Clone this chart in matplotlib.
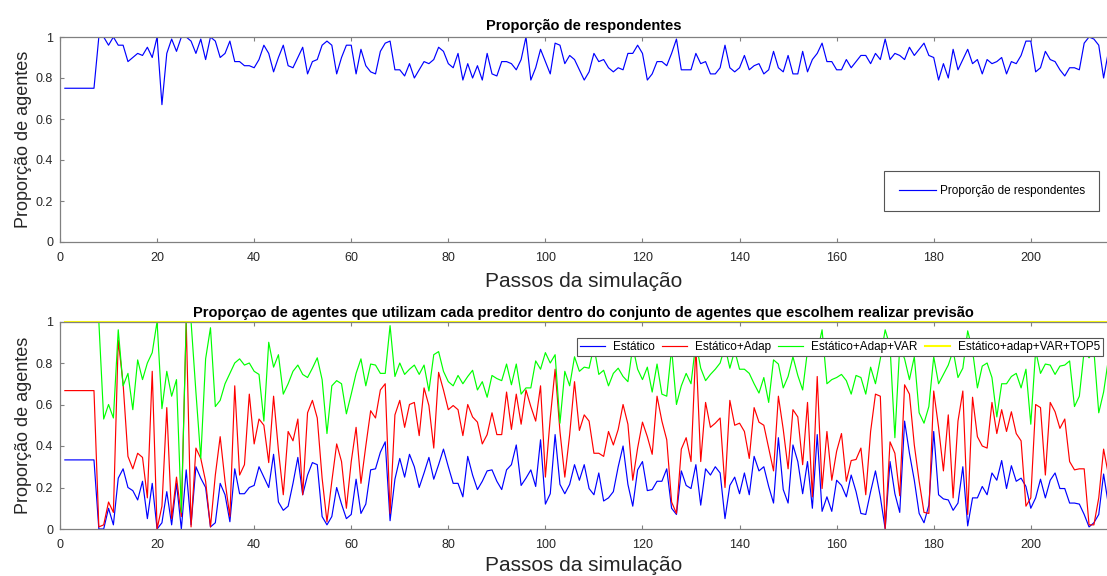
import numpy as np
import matplotlib
matplotlib.use('Agg')
import matplotlib.pyplot as plt

plt.rcParams['font.family'] = ['Liberation Sans', 'DejaVu Sans']

# proporção de respondentes, passo 1..216
respondentes = [0.75] * 7 + [
    1.0, 1.0, 0.96, 1.0, 0.96, 0.96, 0.88, 0.90, 0.92, 0.91, 0.95, 0.90, 1.0, 0.67, 0.92, 0.99, 0.93,
    1.0, 1.0, 0.98, 0.92, 0.99, 0.89, 1.0, 0.98, 0.90, 0.92, 0.98, 0.88, 0.88, 0.86, 0.86, 0.85, 0.89,
    0.96, 0.92, 0.83, 0.90, 0.96, 0.86, 0.85, 0.90, 0.95, 0.82, 0.88, 0.89, 0.96,
    0.98, 0.96, 0.82, 0.90, 0.96, 0.96, 0.82, 0.94, 0.86, 0.83, 0.82, 0.93, 0.97, 0.98, 0.84, 0.84,
    0.81, 0.87, 0.80, 0.84, 0.88, 0.87, 0.89, 0.95, 0.93, 0.87, 0.85, 0.92, 0.79, 0.87, 0.80, 0.86,
    0.79, 0.92, 0.82, 0.81, 0.88, 0.88, 0.87, 0.84, 0.89, 1.0, 0.79, 0.85, 0.94, 0.88, 0.82, 0.97,
    0.96, 0.87, 0.91, 0.89, 0.84, 0.79,
    0.83, 0.92, 0.88, 0.89, 0.85, 0.83, 0.85, 0.84, 0.92, 0.92, 0.96, 0.92, 0.79, 0.82, 0.88, 0.88,
    0.86, 0.92, 0.99, 0.84, 0.84, 0.84, 0.92, 0.87, 0.88, 0.82, 0.82, 0.85, 0.96, 0.85, 0.83, 0.85,
    0.91, 0.84, 0.86, 0.87, 0.82, 0.84, 0.93, 0.85, 0.83, 0.91, 0.82, 0.82, 0.93, 0.83, 0.89, 0.92,
    0.97, 0.88, 0.88, 0.84, 0.84,
    0.89, 0.85, 0.88, 0.91, 0.91, 0.87, 0.92, 0.89, 0.99, 0.89, 0.92, 0.91, 0.89, 0.95, 0.91, 0.94,
    0.97, 0.91, 0.90, 0.79, 0.87, 0.80, 0.94, 0.84, 0.89, 0.94, 0.87, 0.89, 0.82, 0.89, 0.87, 0.88,
    0.90, 0.82, 0.88, 0.87, 0.91, 0.98, 0.98, 0.83, 0.85, 0.93, 0.89, 0.88, 0.84, 0.81, 0.85, 0.85,
    0.84, 0.97, 1.0, 0.99, 0.96, 0.80, 0.93]

# proporções acumuladas dos preditores
estatico = [0.333] * 7 + [
    0.0, 0.0, 0.10, 0.02, 0.245, 0.29, 0.20, 0.185, 0.14, 0.23, 0.05, 0.22, 0.0, 0.03, 0.18, 0.02,
    0.22, 0.0, 0.285, 0.02, 0.30, 0.245, 0.20, 0.01, 0.03, 0.22, 0.165, 0.035, 0.29,
    0.17, 0.17, 0.20, 0.21, 0.30, 0.25, 0.20, 0.36, 0.13, 0.09, 0.11, 0.22, 0.345, 0.165, 0.26, 0.32,
    0.31, 0.06, 0.02, 0.06, 0.20, 0.12, 0.05, 0.07, 0.24, 0.075, 0.12, 0.285, 0.29, 0.37, 0.42, 0.04,
    0.24, 0.34, 0.25, 0.36,
    0.30, 0.20, 0.27, 0.345, 0.24, 0.31, 0.385, 0.30, 0.22, 0.22, 0.155, 0.35, 0.26, 0.19, 0.23, 0.28,
    0.285, 0.23, 0.19, 0.285, 0.31, 0.405, 0.21, 0.245, 0.285, 0.205, 0.43, 0.12, 0.17, 0.455, 0.215,
    0.17, 0.215, 0.31, 0.235, 0.31,
    0.195, 0.165, 0.27, 0.135, 0.15, 0.18, 0.30, 0.40, 0.215, 0.11, 0.285, 0.325, 0.185, 0.19, 0.23,
    0.23, 0.29, 0.10, 0.07, 0.28, 0.21, 0.195, 0.31, 0.115, 0.29, 0.26, 0.30, 0.27, 0.05, 0.21, 0.25,
    0.17, 0.27, 0.165, 0.35, 0.28,
    0.30, 0.205, 0.125, 0.44, 0.19, 0.125, 0.405, 0.325, 0.17, 0.325, 0.10, 0.455, 0.085, 0.155, 0.085,
    0.235, 0.21, 0.155, 0.26, 0.18, 0.075, 0.07, 0.18, 0.28, 0.155, 0.0, 0.325, 0.17, 0.08, 0.52, 0.365,
    0.235, 0.075, 0.03, 0.115, 0.47,
    0.165, 0.145, 0.14, 0.09, 0.125, 0.30, 0.015, 0.15, 0.15, 0.205, 0.165, 0.27, 0.235, 0.33, 0.195,
    0.305, 0.23, 0.245, 0.205, 0.10, 0.15, 0.24, 0.15, 0.235, 0.27, 0.195, 0.195, 0.125, 0.125, 0.12,
    0.07, 0.01, 0.03, 0.07, 0.265, 0.115]

estatico_adap = [0.667] * 7 + [
    0.01, 0.02, 0.13, 0.08, 0.91, 0.70, 0.35, 0.29, 0.365, 0.345, 0.15, 0.76, 0.0, 0.11, 0.585, 0.05,
    0.25, 0.06, 1.0, 0.01, 0.39, 0.34, 0.23, 0.01, 0.26, 0.445, 0.23, 0.06, 0.69,
    0.26, 0.31, 0.65, 0.41, 0.53, 0.50, 0.32, 0.64, 0.38, 0.165, 0.47, 0.425, 0.53, 0.165, 0.56, 0.62,
    0.535, 0.245, 0.035, 0.23, 0.41, 0.325, 0.10, 0.325, 0.49, 0.22, 0.40, 0.57, 0.535, 0.67, 0.70,
    0.075, 0.55, 0.62, 0.49, 0.60,
    0.61, 0.45, 0.68, 0.595, 0.39, 0.755, 0.67, 0.575, 0.595, 0.575, 0.45, 0.60, 0.54, 0.515, 0.41,
    0.455, 0.56, 0.455, 0.455, 0.66, 0.48, 0.65, 0.505, 0.67, 0.59, 0.52, 0.69, 0.25, 0.535, 0.77,
    0.47, 0.25, 0.455, 0.71, 0.475, 0.55,
    0.52, 0.365, 0.365, 0.35, 0.47, 0.405, 0.48, 0.60, 0.505, 0.235, 0.39, 0.515, 0.445, 0.36, 0.64,
    0.52, 0.43, 0.13, 0.075, 0.385, 0.44, 0.325, 0.88, 0.325, 0.61, 0.49, 0.51, 0.535, 0.20, 0.62,
    0.50, 0.51, 0.47, 0.34, 0.585, 0.515,
    0.50, 0.39, 0.28, 0.64, 0.48, 0.29, 0.575, 0.54, 0.31, 0.61, 0.155, 0.735, 0.195, 0.47, 0.235,
    0.375, 0.46, 0.23, 0.33, 0.335, 0.39, 0.165, 0.47, 0.65, 0.64, 0.0, 0.42, 0.365, 0.16, 0.695, 0.65,
    0.405, 0.23, 0.08, 0.075, 0.665,
    0.49, 0.28, 0.55, 0.15, 0.52, 0.665, 0.07, 0.635, 0.445, 0.40, 0.39, 0.61, 0.46, 0.575, 0.47,
    0.565, 0.46, 0.425, 0.11, 0.15, 0.60, 0.585, 0.26, 0.61, 0.565, 0.485, 0.53, 0.325, 0.285, 0.29,
    0.29, 0.02, 0.02, 0.15, 0.385, 0.26]

estatico_adap_var = [1.0] * 8 + [
    0.53, 0.60, 0.535, 0.96, 0.69, 0.75, 0.575, 0.815, 0.72, 0.80, 0.85, 1.0, 0.58, 0.76, 0.64, 0.72,
    0.08, 1.0, 1.0, 0.66, 0.34, 0.82, 0.97, 0.59, 0.62, 0.70, 0.75, 0.80,
    0.82, 0.79, 0.80, 0.76, 0.745, 0.52, 0.90, 0.78, 0.84, 0.65, 0.70, 0.76, 0.79, 0.745, 0.73, 0.775,
    0.825, 0.72, 0.46, 0.69, 0.715, 0.70, 0.555, 0.65, 0.75, 0.82, 0.69, 0.795, 0.79, 0.75, 0.75, 0.98,
    0.735, 0.80, 0.745, 0.77,
    0.79, 0.745, 0.79, 0.665, 0.84, 0.855, 0.76, 0.71, 0.69, 0.74, 0.70, 0.735, 0.765, 0.67, 0.71,
    0.635, 0.74, 0.725, 0.715, 0.795, 0.695, 0.795, 0.65, 0.68, 0.68, 0.81, 0.77, 0.85, 0.80, 0.84,
    0.51, 0.76, 0.69, 0.83, 0.76, 0.78,
    0.775, 0.88, 0.745, 0.765, 0.69, 0.75, 0.775, 0.735, 0.71, 0.88, 0.77, 0.72, 0.78, 0.66, 0.795,
    0.65, 0.64, 0.87, 0.60, 0.69, 0.75, 0.70, 0.90, 0.775, 0.715, 0.745, 0.77, 0.80, 0.88, 0.775, 0.86,
    0.77, 0.77, 0.75, 0.70, 0.655,
    0.73, 0.61, 0.815, 0.795, 0.68, 0.735, 0.83, 0.74, 0.67, 0.86, 0.88, 0.85, 0.96, 0.70, 0.72, 0.73,
    0.745, 0.715, 0.65, 0.74, 0.73, 0.65, 0.78, 0.70, 0.82, 0.96, 0.88, 0.44, 0.88, 0.82, 0.72, 0.83,
    0.56, 0.51, 0.59, 0.83,
    0.70, 0.745, 0.79, 0.86, 0.73, 0.775, 0.955, 0.86, 0.68, 0.785, 0.80, 0.73, 0.54, 0.70, 0.70,
    0.735, 0.75, 0.68, 0.77, 0.505, 0.86, 0.75, 0.795, 0.79, 0.745, 0.785, 0.79, 0.81, 0.59, 0.64,
    0.86, 0.825, 0.86, 0.56, 0.66, 0.82]

top5 = [1.0] * len(estatico)

passos = np.arange(1, len(respondentes) + 1)
passos2 = np.arange(1, len(estatico) + 1)

W, H = 1107, 576
fig = plt.figure(figsize=(W / 100, H / 100), dpi=100)

spine_c = '#808080'
txt_c = '#262626'
lw = 0.85


def style(ax):
    for s in ax.spines.values():
        s.set_color(spine_c)
        s.set_linewidth(0.9)
    ax.spines['right'].set_visible(False)
    ax.tick_params(direction='in', length=3, width=0.8, colors=spine_c, labelcolor=txt_c,
                   labelsize=9, top=True, right=False, pad=7)
    ax.set_xlim(0, 215.7)
    ax.set_ylim(0, 1)
    ax.set_xticks(range(0, 201, 20))
    ax.set_yticks([0, 0.2, 0.4, 0.6, 0.8, 1])
    ax.set_yticklabels(['0', '0.2', '0.4', '0.6', '0.8', '1'])


# painel de cima
ax1 = fig.add_axes([60 / W, (H - 242) / H, 1047 / W, 205 / H])
ax1.plot(passos, respondentes, color=(0, 0, 1), lw=lw, label='Proporção de respondentes')
style(ax1)
ax1.tick_params(axis='y', pad=5)
ax1.set_title('Proporção de respondentes', fontsize=10.5, fontweight='bold', pad=5)
ax1.set_xlabel('Passos da simulação', fontsize=15, color=txt_c, labelpad=6)
ax1.set_ylabel('Proporção de agentes', fontsize=13, color=txt_c, labelpad=3)
leg1 = ax1.legend(loc='center', bbox_to_anchor=(0.89, 0.25), fontsize=8.5, fancybox=False,
                  framealpha=1, edgecolor='#555555', handlelength=3.2, handletextpad=0.3,
                  borderpad=1.2, borderaxespad=0)
leg1.get_frame().set_linewidth(0.8)

# painel de baixo
ax2 = fig.add_axes([60 / W, 47 / H, 1047 / W, 207.5 / H])
ax2.plot(passos2, estatico, color=(0, 0, 1), lw=lw, label='Estático')
ax2.plot(passos2, estatico_adap, color=(1, 0, 0), lw=lw, label='Estático+Adap')
ax2.plot(passos2, estatico_adap_var, color=(0, 1, 0), lw=lw, label='Estático+Adap+VAR')
ax2.plot(passos2, top5, color=(1, 1, 0), lw=1.5, label='Estático+adap+VAR+TOP5', clip_on=False)
style(ax2)
ax2.tick_params(axis='y', pad=5)
ax2.set_title('Proporçao de agentes que utilizam cada preditor dentro do conjunto de agentes '
              'que escolhem realizar previsão', fontsize=10.5, fontweight='bold', pad=3)
ax2.set_xlabel('Passos da simulação', fontsize=15, color=txt_c, labelpad=4)
ax2.set_ylabel('Proporção de agentes', fontsize=13, color=txt_c, labelpad=3)
leg2 = ax2.legend(loc='center', bbox_to_anchor=(0.745, 0.877), ncol=4, fontsize=8.5,
                  fancybox=False, framealpha=1, edgecolor='#555555', handlelength=2.1,
                  handletextpad=0.7, columnspacing=0.6, borderpad=0.25, borderaxespad=0)
leg2.get_frame().set_linewidth(0.8)

fig.savefig('out.png', dpi=100)
